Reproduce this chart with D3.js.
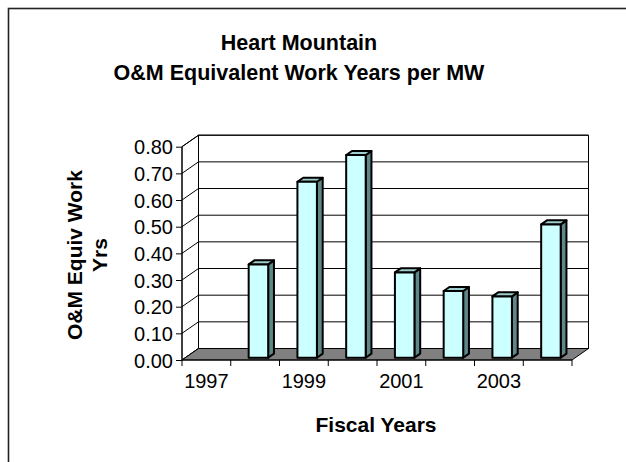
<!DOCTYPE html>
<html>
<head>
<meta charset="utf-8">
<script src="https://cdn.jsdelivr.net/npm/d3@7"></script>
<style>
  html, body { margin: 0; padding: 0; background: #fff; }
  svg { display: block; font-family: "Liberation Sans", Arial, sans-serif; }
</style>
</head>
<body>
<svg id="chart" width="626" height="462"></svg>
<script>
// ---- data ----
const categories = ["1997", "1998", "1999", "2000", "2001", "2002", "2003", "2004"];
const values = [null, 0.35, 0.66, 0.76, 0.32, 0.25, 0.23, 0.50];
const yTicks = [0, 0.1, 0.2, 0.3, 0.4, 0.5, 0.6, 0.7, 0.8];
const titleLines = ["Heart Mountain", "O&M Equivalent Work Years per MW"];
const yTitleLines = ["O&M Equiv Work", "Yrs"];
const xTitle = "Fiscal Years";

// ---- layout ----
const svg = d3.select("#chart");
const plot = { left: 182, right: 572, top: 146.7, bottom: 360 };
const depth = { dx: 16.5, dy: -11.5 };
const barDepth = [0.2, 0.55];

const x = d3.scaleBand().domain(categories).range([plot.left, plot.right]).paddingInner(0).paddingOuter(0);
const y = d3.scaleLinear().domain([0, 0.8]).range([plot.bottom, plot.top]);

// outer border
svg.append("rect").attr("x", 8.5).attr("y", 8.5).attr("width", 700).attr("height", 600)
  .attr("fill", "none").attr("stroke", "#222").attr("stroke-width", 1.6);

// title
const title = svg.append("text").attr("text-anchor", "middle")
  .attr("font-weight", "bold").attr("font-size", 21.5).attr("fill", "#000");
titleLines.forEach((t, i) => {
  title.append("tspan").attr("x", 299).attr("y", 50 + i * 30).text(t);
});

const P = (px, py, f) => [px + depth.dx * f, py + depth.dy * f];
const poly = pts => "M" + pts.map(p => p.join(",")).join("L") + "Z";

const y0 = y(0), yTop = y(0.8);
// back wall
svg.append("path")
  .attr("d", poly([P(plot.left, yTop, 1), P(plot.right, yTop, 1), P(plot.right, y0, 1), P(plot.left, y0, 1)]))
  .attr("fill", "#fff").attr("stroke", "#000").attr("stroke-width", 1);
// left wall
svg.append("path")
  .attr("d", poly([P(plot.left, yTop, 0), P(plot.left, yTop, 1), P(plot.left, y0, 1), P(plot.left, y0, 0)]))
  .attr("fill", "#fff").attr("stroke", "#000").attr("stroke-width", 1);

// gridlines (back wall + side wall)
const grid = svg.append("g").attr("stroke", "#000").attr("stroke-width", 1).attr("fill", "none");
yTicks.forEach(v => {
  const a = P(plot.left, y(v), 0), b = P(plot.left, y(v), 1), c = P(plot.right, y(v), 1);
  grid.append("path").attr("d", "M" + a + "L" + b + "L" + c);
});

// floor
svg.append("path")
  .attr("d", poly([P(plot.left, y0, 0), P(plot.right, y0, 0), P(plot.right, y0, 1), P(plot.left, y0, 1)]))
  .attr("fill", "#808080").attr("stroke", "#000").attr("stroke-width", 1);

// bars
const bw = x.bandwidth() * 0.4;
const bars = svg.append("g");
categories.forEach((c, i) => {
  const v = values[i];
  if (v == null) return;
  const xl = x(c) + (x.bandwidth() - bw) / 2, xr = xl + bw;
  const yb = y(0), yt = y(v);
  const f0 = barDepth[0], f1 = barDepth[1];
  const g = bars.append("g").attr("stroke", "#000").attr("stroke-width", 2).attr("stroke-linejoin", "round");
  // side
  g.append("path").attr("d", poly([P(xr, yt, f0), P(xr, yt, f1), P(xr, yb, f1), P(xr, yb, f0)])).attr("fill", "#5f8787");
  // top
  g.append("path").attr("d", poly([P(xl, yt, f0), P(xl, yt, f1), P(xr, yt, f1), P(xr, yt, f0)])).attr("fill", "#9fcccc");
  // front
  g.append("path").attr("d", poly([P(xl, yt, f0), P(xr, yt, f0), P(xr, yb, f0), P(xl, yb, f0)])).attr("fill", "#ccffff");
});

// y axis
const yAxis = svg.append("g").attr("transform", `translate(${plot.left},0)`)
  .call(d3.axisLeft(y).tickValues(yTicks).tickSize(6).tickPadding(3).tickFormat(d3.format(".2f")));
yAxis.select(".domain").attr("stroke", "#000").attr("d", `M0,${yTop}V${y0}`);
yAxis.selectAll(".tick line").attr("stroke", "#000");
yAxis.selectAll(".tick text").attr("font-size", 20).attr("fill", "#000")
  .attr("font-family", "Liberation Sans, Arial, sans-serif").attr("dy", "0.36em");

// x axis
const xAxis = svg.append("g").attr("transform", `translate(0,${y0})`)
  .call(d3.axisBottom(x).tickSize(0).tickPadding(14).tickFormat((d, i) => i % 2 === 0 ? d : ""));
xAxis.select(".domain").attr("stroke", "#000").attr("d", `M${plot.left},0H${plot.right}`);
xAxis.selectAll(".tick text").attr("font-size", 20).attr("fill", "#000")
  .attr("font-family", "Liberation Sans, Arial, sans-serif");
const bounds = categories.map(c => x(c)).concat([plot.right]);
xAxis.selectAll(".bound").data(bounds).enter().append("line").attr("class", "bound")
  .attr("x1", d => d).attr("x2", d => d).attr("y1", 0).attr("y2", 6).attr("stroke", "#000");

// axis titles
svg.append("text").attr("x", 376).attr("y", 432).attr("text-anchor", "middle")
  .attr("font-weight", "bold").attr("font-size", 21).text(xTitle);
const yt = svg.append("text").attr("transform", "translate(0,255) rotate(-90)")
  .attr("text-anchor", "middle").attr("font-weight", "bold").attr("font-size", 21);
yTitleLines.forEach((t, i) => {
  yt.append("tspan").attr("x", 0).attr("y", 82 + i * 25).text(t);
});
</script>
</body>
</html>
